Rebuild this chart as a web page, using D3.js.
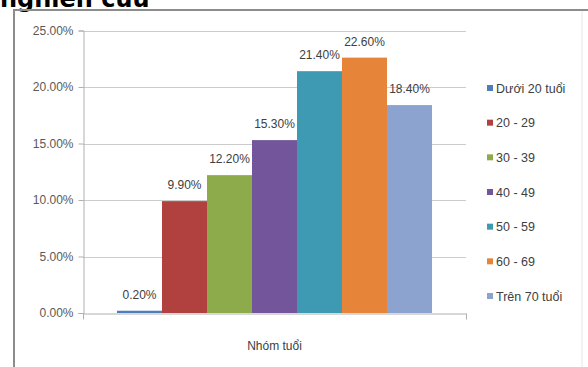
<!DOCTYPE html>
<html>
<head>
<meta charset="utf-8">
<script src="https://cdn.jsdelivr.net/npm/d3@7"></script>
<style>
html,body{margin:0;padding:0;background:#fff;}
svg{display:block;}
</style>
</head>
<body>
<svg id="chart" width="588" height="367"></svg>
<script>
const titleText = "nghiên cứu";
const category = ["Nhóm tuổi"];
const seriesNames = ["Dưới 20 tuổi", "20 - 29", "30 - 39", "40 - 49", "50 - 59", "60 - 69", "Trên 70 tuổi"];
const seriesValues = [0.2, 9.9, 12.2, 15.3, 21.4, 22.6, 18.4];
const seriesColors = ["#4F7DBB", "#B1413F", "#8EAB4B", "#72559A", "#3E99B3", "#E6853A", "#8CA3CF"];
const yTicks = [0, 5, 10, 15, 20, 25];

const svg = d3.select("#chart");
const font = "'Liberation Sans', Arial, sans-serif";

// title (cut at top, as in the source)
svg.append("text").attr("x", 0).attr("y", 7)
  .attr("font-family", "'DejaVu Sans', Verdana, sans-serif")
  .attr("font-weight", "bold").attr("font-size", 24).attr("fill", "#000")
  .text(titleText);

// frame
svg.append("line").attr("x1", 14).attr("x2", 14).attr("y1", 10).attr("y2", 367)
  .attr("stroke", "#8c8c8c").attr("stroke-width", 2);
svg.append("line").attr("x1", 13).attr("x2", 588).attr("y1", 10).attr("y2", 10)
  .attr("stroke", "#8c8c8c").attr("stroke-width", 2);
svg.append("line").attr("x1", 582).attr("x2", 582).attr("y1", 11).attr("y2", 367)
  .attr("stroke", "#e6e6e6").attr("stroke-width", 1);

const plotL = 83, plotR = 466, plotB = 313, plotT = 30.5;
const y = d3.scaleLinear().domain([0, 25]).range([plotB, plotT]);
const xCat = d3.scaleBand().domain(category).range([plotL, plotR]).paddingInner(0.0974).paddingOuter(0.0974);
const xSer = d3.scaleBand().domain(seriesNames).range([0, xCat.bandwidth()]).padding(0);

// gridlines
svg.append("g").selectAll("line").data(yTicks.filter(t => t > 0)).join("line")
  .attr("x1", plotL).attr("x2", plotR)
  .attr("y1", d => Math.round(y(d)) + 0.5).attr("y2", d => Math.round(y(d)) + 0.5)
  .attr("stroke", "#cccccc").attr("stroke-width", 1);

// y axis
const yAxis = d3.axisLeft(y).tickValues(yTicks).tickSize(5).tickFormat(d => d.toFixed(2) + "%");
const gy = svg.append("g").attr("transform", `translate(${plotL + 0.5},0)`).call(yAxis);
gy.select(".domain").attr("stroke", "#b0b0b0");
gy.selectAll(".tick line").attr("stroke", "#b0b0b0");
gy.selectAll(".tick text").attr("font-family", font).attr("font-size", 12)
  .attr("fill", "#595959").attr("x", -10);

// bars
const gBars = svg.append("g").attr("transform", `translate(${xCat(category[0])},0)`);
gBars.selectAll("rect").data(seriesValues).join("rect")
  .attr("x", (d, i) => xSer(seriesNames[i]))
  .attr("width", xSer.bandwidth())
  .attr("y", d => y(d))
  .attr("height", d => Math.max(2, y(0) - y(d)))
  .attr("fill", (d, i) => seriesColors[i]);

// data labels
gBars.selectAll("text").data(seriesValues).join("text")
  .attr("x", (d, i) => xSer(seriesNames[i]) + xSer.bandwidth() / 2)
  .attr("y", d => y(d) - 12)
  .attr("text-anchor", "middle")
  .attr("font-family", font).attr("font-size", 12).attr("fill", "#404040")
  .text(d => d.toFixed(2) + "%");

// x axis
const xAxis = d3.axisBottom(xCat).tickSize(0).tickPadding(28);
const gx = svg.append("g").attr("transform", `translate(0,${plotB + 0.5})`).call(xAxis);
gx.select(".domain").attr("stroke", "#b0b0b0");
gx.selectAll(".tick text").attr("font-family", font).attr("font-size", 12).attr("fill", "#404040");
gx.append("g").selectAll("line").data([plotL, plotR]).join("line")
  .attr("x1", d => d + 0.5).attr("x2", d => d + 0.5).attr("y1", 0).attr("y2", 6)
  .attr("stroke", "#b0b0b0");

// legend
const legendY = d3.scalePoint().domain(seriesNames).range([88, 296]);
const lg = svg.append("g");
const items = lg.selectAll("g").data(seriesNames).join("g")
  .attr("transform", d => `translate(487,${legendY(d)})`);
items.append("rect").attr("x", 0).attr("y", -3).attr("width", 6).attr("height", 6)
  .attr("fill", (d, i) => seriesColors[i]);
items.append("text").attr("x", 9).attr("y", 4.5)
  .attr("font-family", font).attr("font-size", 12.5).attr("fill", "#404040")
  .text(d => d);
</script>
</body>
</html>
